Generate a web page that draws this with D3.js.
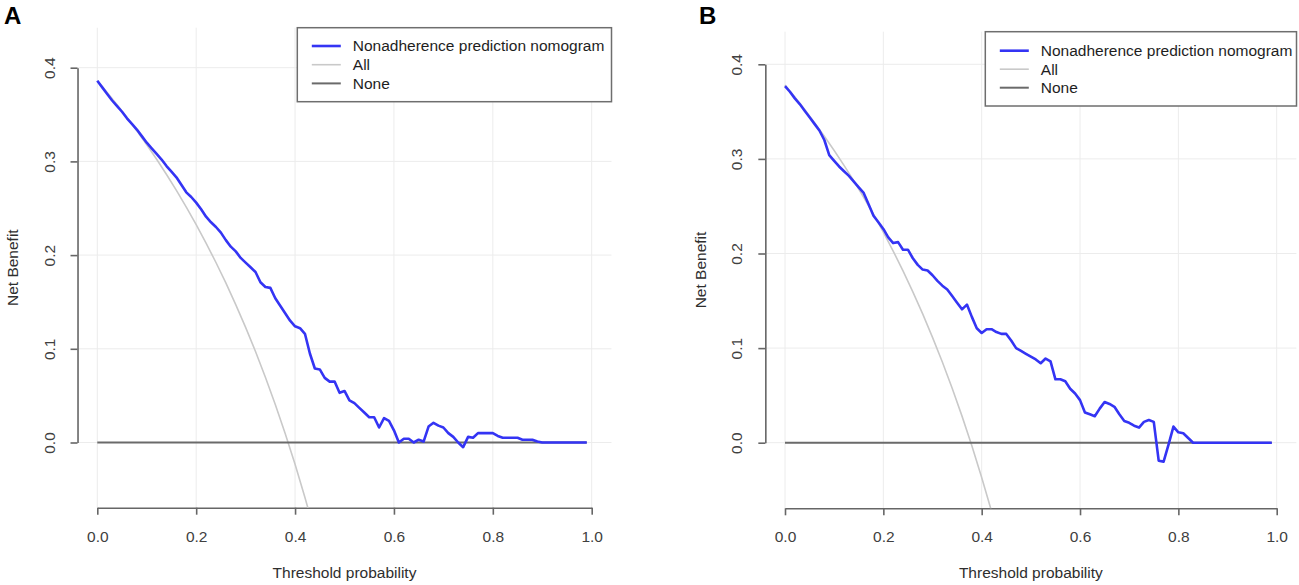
<!DOCTYPE html>
<html>
<head>
<meta charset="utf-8">
<script src="https://cdn.jsdelivr.net/npm/d3@7"></script>
<style>
body { margin:0; background:#fff; }
svg { display:block; font-family:"Liberation Sans", Arial, sans-serif; }
</style>
</head>
<body>
<svg id="chart" width="1299" height="585"></svg>
<script>
"use strict";

// threshold probabilities used by the model curves
var thresholds = [
	0.00,0.01,0.02,0.03,0.04,0.05,0.06,0.07,0.08,0.09,
	0.10,0.11,0.12,0.13,0.14,0.15,0.16,0.17,0.18,0.19,
	0.20,0.21,0.22,0.23,0.24,0.25,0.26,0.27,0.28,0.29,
	0.30,0.31,0.32,0.33,0.34,0.35,0.36,0.37,0.38,0.39,
	0.40,0.41,0.42,0.43,0.44,0.45,0.46,0.47,0.48,0.49,
	0.50,0.51,0.52,0.53,0.54,0.55,0.56,0.57,0.58,0.59,
	0.60,0.61,0.62,0.63,0.64,0.65,0.66,0.67,0.68,0.69,
	0.70,0.71,0.72,0.73,0.74,0.75,0.76,0.77,0.78,0.79,
	0.80,0.81,0.82,0.83,0.84,0.85,0.86,0.87,0.88,0.89,
	0.90,0.91,0.92,0.93,0.94,0.95,0.96,0.97,0.98,0.99
];

// net benefit of the nomogram, panel A and panel B
var nomogramA = [
	0.386,0.379,0.372,0.365,0.359,0.353,0.346,0.340,0.334,0.327,
	0.320,0.314,0.308,0.302,0.295,0.289,0.283,0.275,0.267,0.262,
	0.256,0.249,0.241,0.235,0.230,0.224,0.216,0.209,0.204,0.197,
	0.192,0.187,0.182,0.171,0.166,0.165,0.154,0.146,0.138,0.130,
	0.124,0.122,0.116,0.095,0.079,0.078,0.069,0.065,0.065,0.053,
	0.055,0.045,0.042,0.037,0.032,0.027,0.027,0.016,0.026,0.023,
	0.013,0.000,0.004,0.004,0.000,0.003,0.001,0.017,0.021,0.018,
	0.016,0.010,0.006,0.000,-0.005,0.006,0.005,0.010,0.010,0.010,
	0.010,0.007,0.005,0.005,0.005,0.005,0.003,0.003,0.003,0.001,
	0.000,0.000,0.000,0.000,0.000,0.000,0.000,0.000,0.000,0.000
];
var nomogramB = [
	0.377,0.371,0.364,0.358,0.351,0.344,0.337,0.330,0.320,0.304,
	0.298,0.292,0.287,0.282,0.276,0.270,0.264,0.252,0.240,0.233,
	0.226,0.217,0.211,0.212,0.204,0.204,0.195,0.188,0.183,0.182,
	0.177,0.171,0.166,0.162,0.155,0.148,0.141,0.146,0.133,0.121,
	0.116,0.120,0.120,0.117,0.115,0.115,0.108,0.100,0.097,0.094,
	0.091,0.088,0.084,0.089,0.086,0.067,0.067,0.065,0.057,0.052,
	0.045,0.032,0.030,0.028,0.036,0.043,0.041,0.038,0.030,0.023,
	0.021,0.018,0.016,0.022,0.024,0.022,-0.019,-0.020,-0.002,0.017,
	0.011,0.010,0.005,0.000,0.000,0.000,0.000,0.000,0.000,0.000,
	0.000,0.000,0.000,0.000,0.000,0.000,0.000,0.000,0.000,0.000
];

// "treat all" curve, read at coarser thresholds
var allThresholds = [0.00,0.02,0.04,0.06,0.08,0.10,0.12,0.14,0.16,0.18,0.20,0.22,
	0.24,0.26,0.28,0.30,0.32,0.34,0.36,0.38,0.40,0.42,0.44];
var allA = [0.386,0.3735,0.3604,0.3468,0.3326,0.3178,0.3023,0.2860,0.2690,0.2512,0.2325,0.2128,
	0.1921,0.1703,0.1472,0.1229,0.0971,0.0697,0.0406,0.0097,-0.0233,-0.0586,-0.0964];
var allB = [0.378,0.3653,0.3521,0.3383,0.3239,0.3089,0.2932,0.2767,0.2595,0.2415,0.2225,0.2026,
	0.1816,0.1595,0.1361,0.1114,0.0853,0.0576,0.0281,-0.0032,-0.0367,-0.0724,-0.1107];

// "treat none"
var noneThresholds = [0.00, 0.99];
var noneValues = [0, 0];

var xTicks = [0.0, 0.2, 0.4, 0.6, 0.8, 1.0];
var yTicks = [0.0, 0.1, 0.2, 0.3, 0.4];
var legendLabels = ["Nonadherence prediction nomogram", "All", "None"];

var colBlue = "#3434f4", colAll = "#c9c9c9", colNone = "#6a6a6a", colAxis = "#666666";

var panels = [
	{name:'A', nb:nomogramA, all:allA,
	 x0:97.3, x1:591.7, y0:442.5, y4:67.7, top:27.7, bottom:507.7,
	 labelX:4, yLab:49.8, yTitle:12.4,
	 legX:297.3, legW:314.2, legTop:27.7, legH:74, legRow:46, legStep:18.7},
	{name:'B', nb:nomogramB, all:allB,
	 x0:785, x1:1276.7, y0:442.7, y4:64.3, top:31.7, bottom:508.3,
	 labelX:699, yLab:736.7, yTitle:700.6,
	 legX:985.3, legW:311.2, legTop:31.7, legH:74.3, legRow:50.7, legStep:18.5}
];

var svg = d3.select('#chart');

function drawPanel(p, idx) {
	var x = d3.scaleLinear().domain([0, 1]).range([p.x0, p.x1]);
	var y = d3.scaleLinear().domain([0, 0.4]).range([p.y0, p.y4]);
	var left = x(-0.04), right = x(1.04);
	var g = svg.append('g');

	var clipId = 'clip' + idx;
	svg.append('clipPath').attr('id', clipId)
		.append('rect')
		.attr('x', left).attr('y', p.top)
		.attr('width', right - left).attr('height', p.bottom - p.top);

	// grid
	g.selectAll('.vgrid').data(xTicks).enter().append('line')
		.attr('x1', function(d){ return x(d); }).attr('x2', function(d){ return x(d); })
		.attr('y1', p.top).attr('y2', p.bottom)
		.attr('stroke', '#ececec').attr('stroke-width', 1);
	g.selectAll('.hgrid').data(yTicks).enter().append('line')
		.attr('x1', left).attr('x2', right)
		.attr('y1', function(d){ return y(d); }).attr('y2', function(d){ return y(d); })
		.attr('stroke', '#ececec').attr('stroke-width', 1);

	// axes
	var xAxis = g.append('g')
		.attr('transform', 'translate(0,' + p.bottom + ')')
		.call(d3.axisBottom(x).tickValues(xTicks).tickFormat(d3.format('.1f')).tickSize(7).tickSizeOuter(0));
	var yAxis = g.append('g')
		.attr('transform', 'translate(' + left + ',0)')
		.call(d3.axisLeft(y).tickValues(yTicks).tickFormat(d3.format('.1f')).tickSize(7).tickSizeOuter(0));
	[xAxis, yAxis].forEach(function(a){
		a.select('.domain').attr('stroke', colAxis).attr('stroke-width', 1.6);
		a.selectAll('.tick line').attr('stroke', colAxis).attr('stroke-width', 1.6);
		a.selectAll('.tick text').attr('fill', '#404040')
			.style('font-family', '"Liberation Sans", Arial, sans-serif').style('font-size', '15.5px');
	});
	xAxis.selectAll('.tick text').attr('y', 28.5).attr('dy', '0.35em');
	yAxis.selectAll('.tick text')
		.attr('x', 0).attr('dy', '0.35em')
		.attr('text-anchor', 'middle')
		.attr('transform', 'translate(' + (p.yLab - left) + ',0) rotate(-90)');

	// axis titles
	g.append('text')
		.attr('x', (left + right) / 2).attr('y', 573).attr('dy', '0.35em')
		.attr('text-anchor', 'middle').attr('fill', '#2e2e2e').style('font-size', '15.5px')
		.text('Threshold probability');
	g.append('text')
		.attr('transform', 'translate(' + p.yTitle + ',' + ((p.top + p.bottom) / 2) + ') rotate(-90)')
		.attr('dy', '0.35em')
		.attr('text-anchor', 'middle').attr('fill', '#2e2e2e').style('font-size', '15.5px')
		.text('Net Benefit');

	// curves
	var line = d3.line()
		.x(function(d){ return x(d[0]); })
		.y(function(d){ return y(d[1]); });
	var lines = g.append('g').attr('clip-path', 'url(#' + clipId + ')');
	lines.append('path')
		.datum(d3.zip(allThresholds, p.all))
		.attr('d', line).attr('fill', 'none')
		.attr('stroke', colAll).attr('stroke-width', 1.6);
	lines.append('path')
		.datum(d3.zip(noneThresholds, noneValues))
		.attr('d', line).attr('fill', 'none')
		.attr('stroke', colNone).attr('stroke-width', 2);
	lines.append('path')
		.datum(d3.zip(thresholds, p.nb))
		.attr('d', line).attr('fill', 'none')
		.attr('stroke', colBlue).attr('stroke-width', 2.6)
		.attr('stroke-linejoin', 'round');

	// legend
	var leg = g.append('g');
	leg.append('rect')
		.attr('x', p.legX).attr('y', p.legTop)
		.attr('width', p.legW).attr('height', p.legH)
		.attr('fill', '#fff').attr('stroke', '#6e6e6e').attr('stroke-width', 1.5);
	var cols = [colBlue, colAll, colNone];
	var widths = [2.6, 1.6, 2];
	legendLabels.forEach(function(lab, i){
		var ry = p.legRow + i * p.legStep;
		leg.append('line')
			.attr('x1', p.legX + 14.5).attr('x2', p.legX + 43.5)
			.attr('y1', ry).attr('y2', ry)
			.attr('stroke', cols[i]).attr('stroke-width', widths[i]);
		leg.append('text')
			.attr('x', p.legX + 55.5).attr('y', ry).attr('dy', '0.35em')
			.attr('fill', '#1e1e1e').style('font-size', '15.5px')
			.text(lab);
	});

	// panel letter
	g.append('text')
		.attr('x', p.labelX).attr('y', 24)
		.attr('fill', '#000').style('font-size', '24px').style('font-weight', 'bold')
		.text(p.name);
}

panels.forEach(drawPanel);
</script>
</body>
</html>
